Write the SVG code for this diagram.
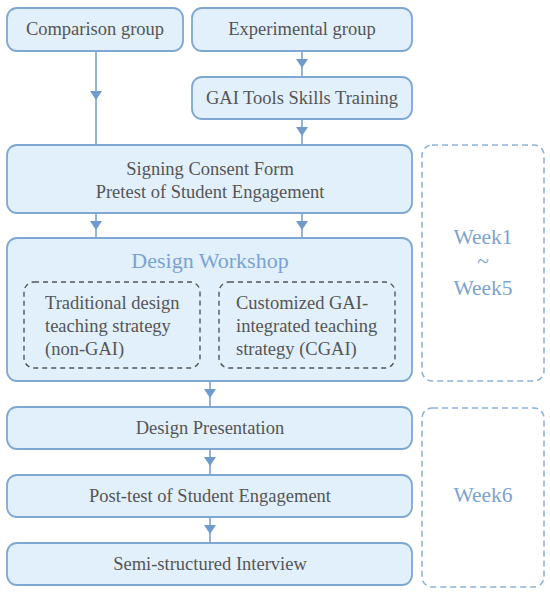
<svg xmlns="http://www.w3.org/2000/svg" width="550" height="594" viewBox="0 0 550 594">
<style>
.box{fill:#e2f0fc;stroke:#7fa7d4;stroke-width:1.8}
.dash{fill:none;stroke:#555;stroke-width:1.4;stroke-dasharray:5,4}
.week{fill:none;stroke:#8db2dc;stroke-width:1.6;stroke-dasharray:6,4}
text{font-family:"Liberation Serif","Times New Roman","DejaVu Serif",serif}
.t{font-size:18.5px;fill:#555;text-anchor:middle}
.tl{font-size:18.5px;fill:#555}
.ttl{font-size:22px;fill:#7ba3d1;text-anchor:middle}
.wk{font-size:21.5px;fill:#7ba3d1;text-anchor:middle}
.conn{fill:none;stroke:#79a2d0;stroke-width:1.6;marker-mid:url(#ah)}
</style>
<defs>
<marker id="ah" viewBox="0 0 9 12" refX="9" refY="6" markerUnits="userSpaceOnUse" markerWidth="9" markerHeight="12" orient="auto">
<path d="M0 0 L9 6 L0 12 Z" fill="#6f9bcc"/>
</marker>
</defs>
<g id="connectors">
<path class="conn" d="M96 51 L96 100 L96 145"/>
<path class="conn" d="M302 51 L302 68 L302 77"/>
<path class="conn" d="M302 119 L302 136 L302 145"/>
<path class="conn" d="M96 213 L96 230 L96 238"/>
<path class="conn" d="M302 213 L302 230 L302 238"/>
<path class="conn" d="M210 381 L210 398 L210 407"/>
<path class="conn" d="M210 449 L210 466 L210 475"/>
<path class="conn" d="M210 517 L210 534 L210 543"/>
</g>
<g id="comparison">
<rect class="box" x="7" y="8" width="176" height="43" rx="10"/>
<text class="t" x="95" y="35">Comparison group</text>
</g>
<g id="experimental">
<rect class="box" x="192" y="8" width="220" height="43" rx="10"/>
<text class="t" x="302" y="35">Experimental group</text>
</g>
<g id="training">
<rect class="box" x="192" y="77" width="220" height="42" rx="10"/>
<text class="t" x="302" y="104">GAI Tools Skills Training</text>
</g>
<g id="consent">
<rect class="box" x="7" y="145" width="405" height="68" rx="10"/>
<text class="t" x="210" y="175">Signing Consent Form</text>
<text class="t" x="210" y="198">Pretest of Student Engagement</text>
</g>
<g id="workshop">
<rect class="box" x="7" y="238" width="405" height="143" rx="10"/>
<text class="ttl" x="210" y="268">Design Workshop</text>
</g>
<g id="traditional">
<rect class="dash" x="24" y="282" width="176" height="86" rx="10"/>
<text class="tl" x="45" y="309">Traditional design</text>
<text class="tl" x="45" y="332">teaching strategy</text>
<text class="tl" x="45" y="355">(non-GAI)</text>
</g>
<g id="cgai">
<rect class="dash" x="219" y="282" width="176" height="86" rx="10"/>
<text class="tl" x="236" y="309">Customized GAI-</text>
<text class="tl" x="236" y="332">integrated teaching</text>
<text class="tl" x="236" y="355">strategy (CGAI)</text>
</g>
<g id="presentation">
<rect class="box" x="7" y="407" width="405" height="42" rx="10"/>
<text class="t" x="210" y="434">Design Presentation</text>
</g>
<g id="posttest">
<rect class="box" x="7" y="475" width="405" height="42" rx="10"/>
<text class="t" x="210" y="502">Post-test of Student Engagement</text>
</g>
<g id="interview">
<rect class="box" x="7" y="543" width="405" height="42" rx="10"/>
<text class="t" x="210" y="570">Semi-structured Interview</text>
</g>
<g id="week1-5">
<rect class="week" x="422" y="145" width="122" height="236" rx="10"/>
<text class="wk" x="483" y="244">Week1</text>
<text class="wk" x="483" y="268">~</text>
<text class="wk" x="483" y="295">Week5</text>
</g>
<g id="week6">
<rect class="week" x="422" y="408" width="122" height="179" rx="10"/>
<text class="wk" x="483" y="502">Week6</text>
</g>
</svg>
